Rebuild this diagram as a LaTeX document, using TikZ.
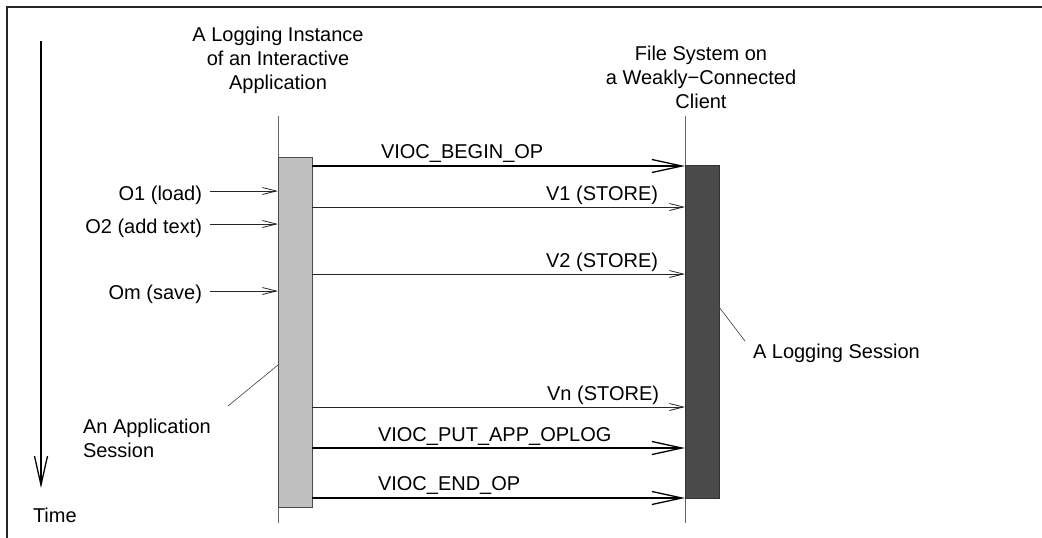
\documentclass[tikz,border=0pt]{standalone}
\usepackage{fontspec}
\setmainfont{Liberation Sans}
\usetikzlibrary{arrows.meta}
\begin{document}
\begin{tikzpicture}[x=1pt,y=-1pt,
  every node/.style={inner sep=0pt, outer sep=0pt, font=\fontsize{20}{24}\selectfont},
  lifeline/.style={draw=black!60, line width=0.9pt},
  frameline/.style={draw=black!85, line width=1.6pt},
  bigmsg/.style={draw=black, line width=1.3pt, -{Straight Barb[length=30pt,width=13pt]}},
  smallmsg/.style={draw=black!85, line width=0.8pt, -{Straight Barb[length=14pt,width=7pt]}},
  timearrow/.style={draw=black, line width=1.3pt, -{Straight Barb[length=29pt,width=13pt]}},
  leader/.style={draw=black!75, line width=0.6pt},
  appbox/.style={draw=black!70, line width=0.8pt, fill=black!25, minimum width=34pt, minimum height=350pt, anchor=north west},
  logbox/.style={draw=black!80, line width=0.8pt, fill=black!71, minimum width=34pt, minimum height=333pt, anchor=north west}
]
\useasboundingbox (0,0) rectangle (1042,538);

% frame (top and left only)
\coordinate (fBL) at (7,538);
\coordinate (fTL) at (7,7);
\coordinate (fTR) at (1042,7);
\draw[frameline] (fBL) -- (fTL) -- (fTR);

% time axis
\coordinate (tTop) at (41,41);
\coordinate (tEnd) at (41,488);
\draw[timearrow] (tTop) -- (tEnd);
\node[anchor=base west] (time) at (33,522) {Time};

% titles
\node[align=center] (title1) at (278,60) {A Logging Instance\\of an Interactive\\Application};
\node[align=center] (title2) at (701,77) {File System on\\a Weakly−Connected\\Client};

% lifelines
\coordinate (llTop) at (278,116);
\coordinate (llBot) at (278,523);
\coordinate (rlTop) at (685,116);
\coordinate (rlBot) at (685,523);
\draw[lifeline] (llTop) -- (llBot);
\draw[lifeline] (rlTop) -- (rlBot);

% activation bars
\node[appbox] (appbar) at (278,157) {};
\node[logbox] (logbar) at (685,165) {};

% message heights
\coordinate (yBegin) at (0,166);
\coordinate (yV1) at (0,207);
\coordinate (yV2) at (0,274);
\coordinate (yVn) at (0,407);
\coordinate (yPut) at (0,448);
\coordinate (yEnd) at (0,498);

\draw[bigmsg] (appbar.east |- yBegin) -- (logbar.west |- yBegin);
\draw[smallmsg] (appbar.east |- yV1) -- (logbar.west |- yV1);
\draw[smallmsg] (appbar.east |- yV2) -- (logbar.west |- yV2);
\draw[smallmsg] (appbar.east |- yVn) -- (logbar.west |- yVn);
\draw[bigmsg] (appbar.east |- yPut) -- (logbar.west |- yPut);
\draw[bigmsg] (appbar.east |- yEnd) -- (logbar.west |- yEnd);

\node[anchor=base west] (lBegin) at (381,158) {VIOC\_BEGIN\_OP};
\node[anchor=base east] (lV1) at (658,200) {V1 (STORE)};
\node[anchor=base east] (lV2) at (658,267) {V2 (STORE)};
\node[anchor=base east] (lVn) at (659,400) {Vn (STORE)};
\node[anchor=base west] (lPut) at (378,441) {VIOC\_PUT\_APP\_OPLOG};
\node[anchor=base west] (lEnd) at (378,490) {VIOC\_END\_OP};

% user operations
\coordinate (o1s) at (210,191);
\coordinate (o2s) at (210,224);
\coordinate (oms) at (210,291);
\draw[smallmsg] (o1s) -- (appbar.west |- o1s);
\draw[smallmsg] (o2s) -- (appbar.west |- o2s);
\draw[smallmsg] (oms) -- (appbar.west |- oms);
\node[anchor=base east] (o1) at (202,200) {O1 (load)};
\node[anchor=base east] (o2) at (202,233) {O2 (add text)};
\node[anchor=base east] (om) at (202,299) {Om (save)};

% annotations
\node[anchor=base west, align=left] (appsess) at (83,457) {An Application\\Session};
\coordinate (appLeadA) at (228,406);
\coordinate (appLeadB) at (0,365);
\draw[leader] (appLeadA) -- (appbar.west |- appLeadB);

\node[anchor=base west] (logsess) at (753,358) {A Logging Session};
\coordinate (logLeadA) at (745,341);
\coordinate (logLeadB) at (0,307);
\draw[leader] (logLeadA) -- (logbar.east |- logLeadB);
\end{tikzpicture}
\end{document}
